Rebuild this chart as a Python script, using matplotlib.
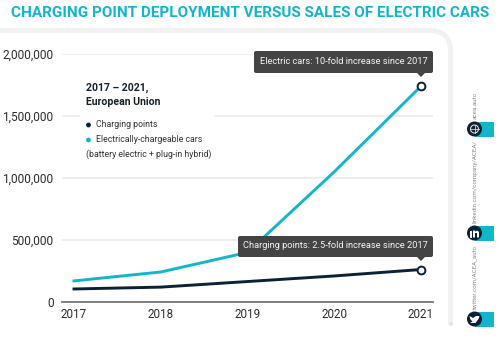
import matplotlib
matplotlib.use('Agg')
import matplotlib.pyplot as plt
from matplotlib.patches import FancyBboxPatch, Circle, Rectangle, Polygon
from matplotlib.path import Path
from matplotlib.patches import PathPatch
from matplotlib.ticker import FuncFormatter

years = [2017, 2018, 2019, 2020, 2021]
charging_points = [105000, 120000, 165000, 210000, 262000]
electric_cars = [170000, 242000, 400000, 1050000, 1740000]
y_ticks = [0, 500000, 1000000, 1500000, 2000000]
title = 'CHARGING POINT DEPLOYMENT VERSUS SALES OF ELECTRIC CARS'
note_cars = 'Electric cars: 10-fold increase since 2017'
note_points = 'Charging points: 2.5-fold increase since 2017'

TEAL = '#12b5cb'
NAVY = '#0b2135'
TIP = '#444444'
plt.rcParams['font.family'] = ['Roboto', 'DejaVu Sans']

W, H = 498, 354
fig = plt.figure(figsize=(W/100, H/100), dpi=100)
fig.patch.set_facecolor('white')

# pixel-space background
bg = fig.add_axes([0, 0, 1, 1], zorder=0)
bg.set_xlim(0, W); bg.set_ylim(H, 0); bg.axis('off')
panel = Path([(-5, 30.5), (430, 30.5), (450, 30.5), (450.5, 50), (450.5, 323)],
             [Path.MOVETO, Path.LINETO, Path.CURVE3, Path.CURVE3, Path.LINETO])
bg.add_patch(PathPatch(panel, fc='none', ec='#f1f1f1', lw=3.5, capstyle='round'))

# main chart
x0, x1, ytop, ybot = 62, 433, 54, 302
ax = fig.add_axes([x0/W, 1-ybot/H, (x1-x0)/W, (ybot-ytop)/H], zorder=1)
ax.patch.set_alpha(0)
ax.set_xlim(2017-12/86.75, 2021+12/86.75)
ax.set_ylim(0, 2000000)
ax.set_yticks(y_ticks)
ax.set_xticks(years)
ax.yaxis.set_major_formatter(FuncFormatter(lambda v, p: f'{int(v):,}'))
ax.grid(axis='y', color='#e9e9e9', lw=1.1)
ax.set_axisbelow(True)
for s in ['top', 'left', 'right']:
    ax.spines[s].set_visible(False)
ax.spines['bottom'].set_color('#777777')
ax.spines['bottom'].set_linewidth(1.3)
ax.tick_params(length=0, labelcolor='#2b2b2b')
ax.tick_params(axis='y', labelsize=8.6, pad=6)
ax.tick_params(axis='x', labelsize=8.4, pad=4.5)
ax.plot(years, electric_cars, color=TEAL, lw=2.1, clip_on=False, zorder=3)
ax.plot(years, charging_points, color=NAVY, lw=2.1, clip_on=False, zorder=3)
ax.plot(years[-1], electric_cars[-1], 'o', ms=5.6, mfc='white', mec=NAVY, mew=1.4, zorder=4, clip_on=False)
ax.plot(years[-1], charging_points[-1], 'o', ms=5.6, mfc='white', mec=NAVY, mew=1.4, zorder=4, clip_on=False)

# overlay in pixels
ov = fig.add_axes([0, 0, 1, 1], zorder=2)
ov.set_xlim(0, W); ov.set_ylim(H, 0); ov.axis('off'); ov.patch.set_alpha(0)

ov.text(11, 13, title, color=TEAL, fontsize=11.0, fontweight='bold', va='center', ha='left')

# legend
ov.add_patch(Rectangle((80, 76), 134, 84, fc='white', ec='none'))
ov.text(86, 87.5, '2017 – 2021,', fontsize=7.6, fontweight='bold', color='#14202b', va='center')
ov.text(86, 102, 'European Union', fontsize=7.6, fontweight='bold', color='#14202b', va='center')
ov.add_patch(Circle((88.5, 125), 2.4, fc=NAVY, ec='none'))
ov.add_patch(Circle((88.5, 140), 2.4, fc=TEAL, ec='none'))
ov.text(96, 124.5, 'Charging points', fontsize=6.3, color='#333333', va='center')
ov.text(96, 139.5, 'Electrically-chargeable cars', fontsize=6.3, color='#333333', va='center')
ov.text(86, 154, '(battery electric + plug-in hybrid)', fontsize=6.3, color='#333333', va='center')

# tooltips
def tooltip(l, r, t, b, px, text):
    ov.add_patch(FancyBboxPatch((l+1, t+1), r-l-2, b-t-2, boxstyle='round,pad=1,rounding_size=2',
                                fc=TIP, ec='none', zorder=5))
    ov.add_patch(Polygon([(px-4, b), (px+4, b), (px, b+4)], fc=TIP, ec='none', zorder=5))
    ov.text((l+r)/2, (t+b)/2-0.5, text, color='#f4f4f4', fontsize=6.7, ha='center', va='center', zorder=6)

tooltip(254, 433, 51, 73, 421, note_cars)
tooltip(238, 433, 236, 257, 421, note_points)

# sidebar
side = '#8a8a8a'
ov.text(475, 105, 'acea.auto', rotation=90, fontsize=4.4, color=side, ha='center', va='center')
ov.text(475, 182, 'linkedin.com/company/ACEA/', rotation=90, fontsize=4.4, color=side, ha='center', va='center')
ov.text(475, 277, 'twitter.com/ACEA_auto', rotation=90, fontsize=4.4, color=side, ha='center', va='center')
for cy in (129, 233, 319):
    ov.add_patch(Rectangle((475, cy-7.5), 19, 15, fc=TEAL, ec='none'))
    ov.add_patch(Circle((474.5, cy), 7.5, fc=NAVY, ec='none'))
# globe icon
ov.add_patch(Circle((474.5, 129), 4, fc='none', ec='#d8d8d8', lw=0.8))
ov.plot([470.5, 478.5], [129, 129], color='#d8d8d8', lw=0.6)
ov.plot([474.5, 474.5], [125, 133], color='#d8d8d8', lw=0.6)
ov.add_patch(Polygon([(470, 230.5), (472, 230.5), (472, 237.5), (470, 237.5)], fc='white', ec='none'))
ov.add_patch(Polygon([(473, 230.5), (475, 230.5), (475, 231.5), (477.5, 230.5), (479, 232), (479, 237.5),
                      (477, 237.5), (477, 233), (475, 233), (475, 237.5), (473, 237.5)], fc='white', ec='none'))
# bird icon
ov.add_patch(Polygon([(469.5, 316), (473, 318), (476, 316), (479.5, 316), (478.5, 319),
                      (475.5, 323), (470, 323), (472.5, 321.5), (470.5, 319.5)], fc='white', ec='none'))
ov.add_patch(Circle((451, 324), 2, fc='#e4e4e4', ec='none'))

fig.savefig('out.png', dpi=100)
